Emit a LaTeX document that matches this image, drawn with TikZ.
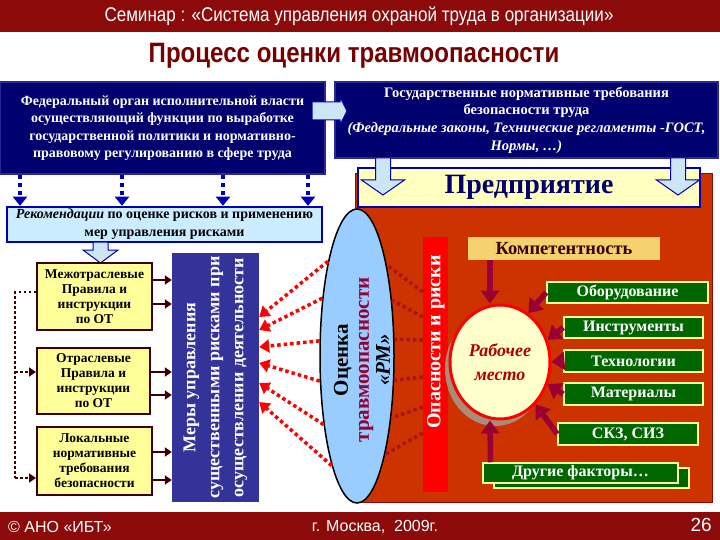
\documentclass[tikz,border=0pt]{standalone}
\usepackage{fontspec}
\setmainfont{Liberation Serif}
\setsansfont{Liberation Sans}
\newfontfamily\narrowsans{Liberation Sans}[FakeStretch=0.86]
\usetikzlibrary{arrows.meta,shapes.geometric,calc}
\definecolor{hdrred}{RGB}{140,10,10}
\definecolor{ttlred}{RGB}{120,0,0}
\definecolor{navyfill}{RGB}{0,0,110}
\definecolor{navyedge}{RGB}{40,40,150}
\definecolor{meryblue}{RGB}{51,51,153}
\definecolor{recfill}{RGB}{204,236,255}
\definecolor{recedge}{RGB}{0,0,180}
\definecolor{yelfill}{RGB}{255,255,153}
\definecolor{maroon}{RGB}{60,0,0}
\definecolor{panelred}{RGB}{204,51,0}
\definecolor{ovalblue}{RGB}{153,204,255}
\definecolor{compfill}{RGB}{245,210,110}
\definecolor{grn}{RGB}{0,102,0}
\definecolor{grnedge}{RGB}{255,255,153}
\definecolor{crimson}{RGB}{153,0,51}
\definecolor{wpfill}{RGB}{255,255,204}
\definecolor{predfill}{RGB}{255,255,192}
\definecolor{arrblue}{RGB}{204,230,245}
\definecolor{dotred}{RGB}{170,20,20}
\definecolor{wpshade}{RGB}{170,140,120}
\newcommand{\fsz}[2]{\fontsize{#1}{#2}\selectfont}
\begin{document}
\begin{tikzpicture}[x=1pt,y=-1pt,
  every node/.style={inner sep=0pt},
  navybox/.style={draw=navyedge,line width=1.2pt,fill=navyfill,text=white,align=center},
  yelbox/.style={draw=maroon,line width=2pt,fill=yelfill,align=center,font=\bfseries\fsz{13.5}{15}},
  grnbox/.style={draw=grnedge,line width=1.5pt,fill=grn,text=white,font=\bfseries\fsz{16}{18}},
  barrow/.style={draw=recedge,line width=1pt,fill=arrblue},
  bluedot/.style={draw=recedge,line width=4pt,dash pattern=on 4pt off 4pt,-{Triangle[length=9pt,width=14pt]}},
  reddot/.style={draw=red,line width=3.5pt,dash pattern=on 3.5pt off 3pt,-{Triangle[length=10pt,width=13pt]}},
  darkdot/.style={draw=dotred,line width=3.5pt,dash pattern=on 3.5pt off 3pt},
  mrndot/.style={draw=maroon,line width=2.5pt,dash pattern=on 2.5pt off 2.5pt},
  mrnarrow/.style={draw=maroon,line width=2.5pt,-{Triangle[length=7pt,width=9pt]}},
  fatarrow/.style={draw=crimson,line width=5.5pt,-{Triangle[length=13pt,width=18pt]}}]
\useasboundingbox (0,0) rectangle (720,540);
% header and footer
\fill[hdrred] (0,0) rectangle (720,32);
\fill[hdrred] (0,512) rectangle (720,540);
\node[font=\narrowsans\fsz{19.8}{22},text=white] (hdr) at (359,16) {Семинар : «Система управления охраной труда в организации»};
\node[font=\narrowsans\bfseries\fsz{28}{32},text=ttlred] (ttl) at (354,56) {Процесс оценки травмоопасности};
\node[font=\sffamily\fsz{16}{18},text=white,anchor=west] (ano) at (8,527) {© АНО «ИБТ»};
\node[font=\sffamily\fsz{16}{18},text=white] (city) at (375,527) {г. Москва,\ \ 2009г.};
\node[font=\sffamily\fsz{19}{22},text=white,anchor=east] (pg) at (712,525) {26};
% enterprise panel
\draw[fill=panelred,draw=hdrred,line width=0.8pt] (355,173) rectangle (712,502);
\node[draw=recedge,line width=1.5pt,fill=predfill,minimum width=342pt,minimum height=39pt,
  font=\bfseries\fsz{28}{30},text=navyfill] (pred) at (529,187.5) {Предприятие};
% top boxes
\node[navybox,minimum width=325pt,minimum height=92pt,font=\bfseries\fsz{14}{17.5}] (fed) at (162.5,128)
  {Федеральный орган исполнительной власти\\осуществляющий функции по выработке\\государственной политики и нормативно-\\правовому регулированию в сфере труда};
\node[navybox,minimum width=383pt,minimum height=76pt,font=\bfseries\fsz{14.5}{17.7}] (gos) at (526.5,120)
  {Государственные нормативные требования\\безопасности труда\\\textit{(Федеральные законы, Технические регламенты -ГОСТ,}\\\textit{Нормы, …)}};
\draw[barrow] (312,102) -- (340,102) -- (340,97) -- (347,111) -- (340,125) -- (340,120) -- (312,120) -- cycle;
\foreach \cx in {383,678}
  \draw[barrow] (\cx-7.5,158) -- (\cx+7.5,158) -- (\cx+7.5,180) -- (\cx+21.5,180) -- (\cx,195)
    -- (\cx-21.5,180) -- (\cx-7.5,180) -- cycle;
% recommendations
\node[draw=recedge,line width=2.5pt,fill=recfill,minimum width=315pt,minimum height=35pt,align=center,
  font=\bfseries\fsz{14}{18}] (rec) at (164.5,224.5) {\textit{Рекомендации} по оценке рисков и применению\\мер управления рисками};
\foreach \x [count=\i] in {20,122,223,308} {
  \coordinate (d\i) at (\x,0);
  \draw[bluedot] (fed.south -| d\i) -- (rec.north -| d\i);
}
\draw[barrow] (93,242) -- (108,242) -- (108,250) -- (118,250) -- (100.5,263) -- (83,250) -- (93,250) -- cycle;
% rules boxes
\node[yelbox,minimum width=115pt,minimum height=67pt] (mezh) at (94.5,296.5) {Межотраслевые\\Правила и\\инструкции\\по ОТ};
\node[yelbox,minimum width=113pt,minimum height=66pt] (otr) at (93.5,381) {Отраслевые\\Правила и\\инструкции\\по ОТ};
\node[yelbox,minimum width=115pt,minimum height=68pt] (lok) at (94.5,461) {Локальные\\нормативные\\требования\\безопасности};
\node[fill=meryblue,minimum width=87pt,minimum height=249pt] (mery) at (215.5,377.5) {};
\node[rotate=90,text=white,align=center,font=\bfseries\fsz{18}{24}] (merytxt) at (mery.center)
  {Меры управления\\существенными рисками при\\осуществлении деятельности};
\foreach \b/\s in {mezh/16.5,mezh/-7.5,otr/9,otr/-14,lok/9,lok/-19}
  \draw[mrnarrow] ([yshift=\s pt]\b.east) -- ([yshift=\s pt]\b.east -| mery.west);
\coordinate (dl1) at (15,292);
\coordinate (dl2) at (15,478);
\coordinate (o2) at ([yshift=9pt]otr.west);
\coordinate (l2) at ([yshift=-17pt]lok.west);
\draw[mrndot] (mezh.west |- dl1) -- (dl1) -- (dl2);
\draw[mrndot,-{Triangle[length=7pt,width=9pt]}] (dl1 |- o2) -- (o2);
\draw[mrndot,-{Triangle[length=7pt,width=9pt]}] (dl2) -- (l2);
% hazards bar
\node[fill=red,minimum width=25pt,minimum height=255pt] (bar) at (435.5,364.5) {};
\node[rotate=90,text=white,font=\bfseries\fsz{20}{22}] (bartxt) at (436,342) {Опасности и риски};
% assessment oval
\node[ellipse,draw=black,line width=1.5pt,fill=ovalblue,minimum width=74pt,minimum height=294pt] (oval) at (357,356) {};
\foreach \a/\s in {72/72.5,58/47.5,24/24.5,-33/-12.5,-61/-42.5,-74/-68.5}
  \draw[darkdot] ([yshift=\s pt]bar.west) -- (oval.\a);
\node[rotate=90,align=center,font=\bfseries\fsz{21}{21}] (ovaltxt) at (362,360)
  {Оценка\\\textcolor{crimson}{травмоопасности}\\\textit{«РМ»}};
\foreach \a/\s in {107/60.5,121/47.5,158/30.5,214/14.5,244/-5.5,257/-24.5}
  \draw[reddot] (oval.\a) -- ([yshift=\s pt]mery.east);
% workplace and factors
\node[ellipse,fill=wpshade,minimum width=100pt,minimum height=114pt] (wpsh) at (495,369) {};
\node[ellipse,draw=red,line width=3pt,fill=wpfill,minimum width=100pt,minimum height=114pt,align=center,
  font=\bfseries\itshape\fsz{18}{24},text=red!70!black] (wp) at (500,362) {Рабочее\\место};
\node[fill=compfill,minimum width=192pt,minimum height=23pt,font=\bfseries\fsz{18.5}{20},text=maroon] (comp) at (564,248.5) {Компетентность};
\node[grnbox,minimum width=161pt,minimum height=21pt] (obor) at (627.5,292.5) {Оборудование};
\node[grnbox,minimum width=139pt,minimum height=21pt] (instr) at (633.5,327.5) {Инструменты};
\node[grnbox,minimum width=139pt,minimum height=22pt] (tech) at (633.5,361) {Технологии};
\node[grnbox,minimum width=139pt,minimum height=22pt] (mater) at (633.5,394) {Материалы};
\node[grnbox,minimum width=140pt,minimum height=22pt] (skz) at (628,434) {СКЗ, СИЗ};
\node[grnbox,minimum width=195pt,minimum height=20pt] (other2) at (591.5,478) {};
\node[grnbox,minimum width=195pt,minimum height=20pt] (other) at (580.5,473) {Другие факторы…};
\draw[fatarrow] ([xshift=-74pt]comp.south) -- ([xshift=-10pt]wp.north);
\draw[fatarrow] (obor.west) -- (wp.60);
\draw[fatarrow] (instr.west) -- (wp.25);
\draw[fatarrow] (tech.west) -- (wp.east);
\draw[fatarrow] (mater.west) -- (wp.-25);
\draw[fatarrow] (skz.west) -- (wp.-50);
\draw[fatarrow] ([xshift=-90pt]other.north) -- ([xshift=-10pt]wp.south);
\end{tikzpicture}
\end{document}
